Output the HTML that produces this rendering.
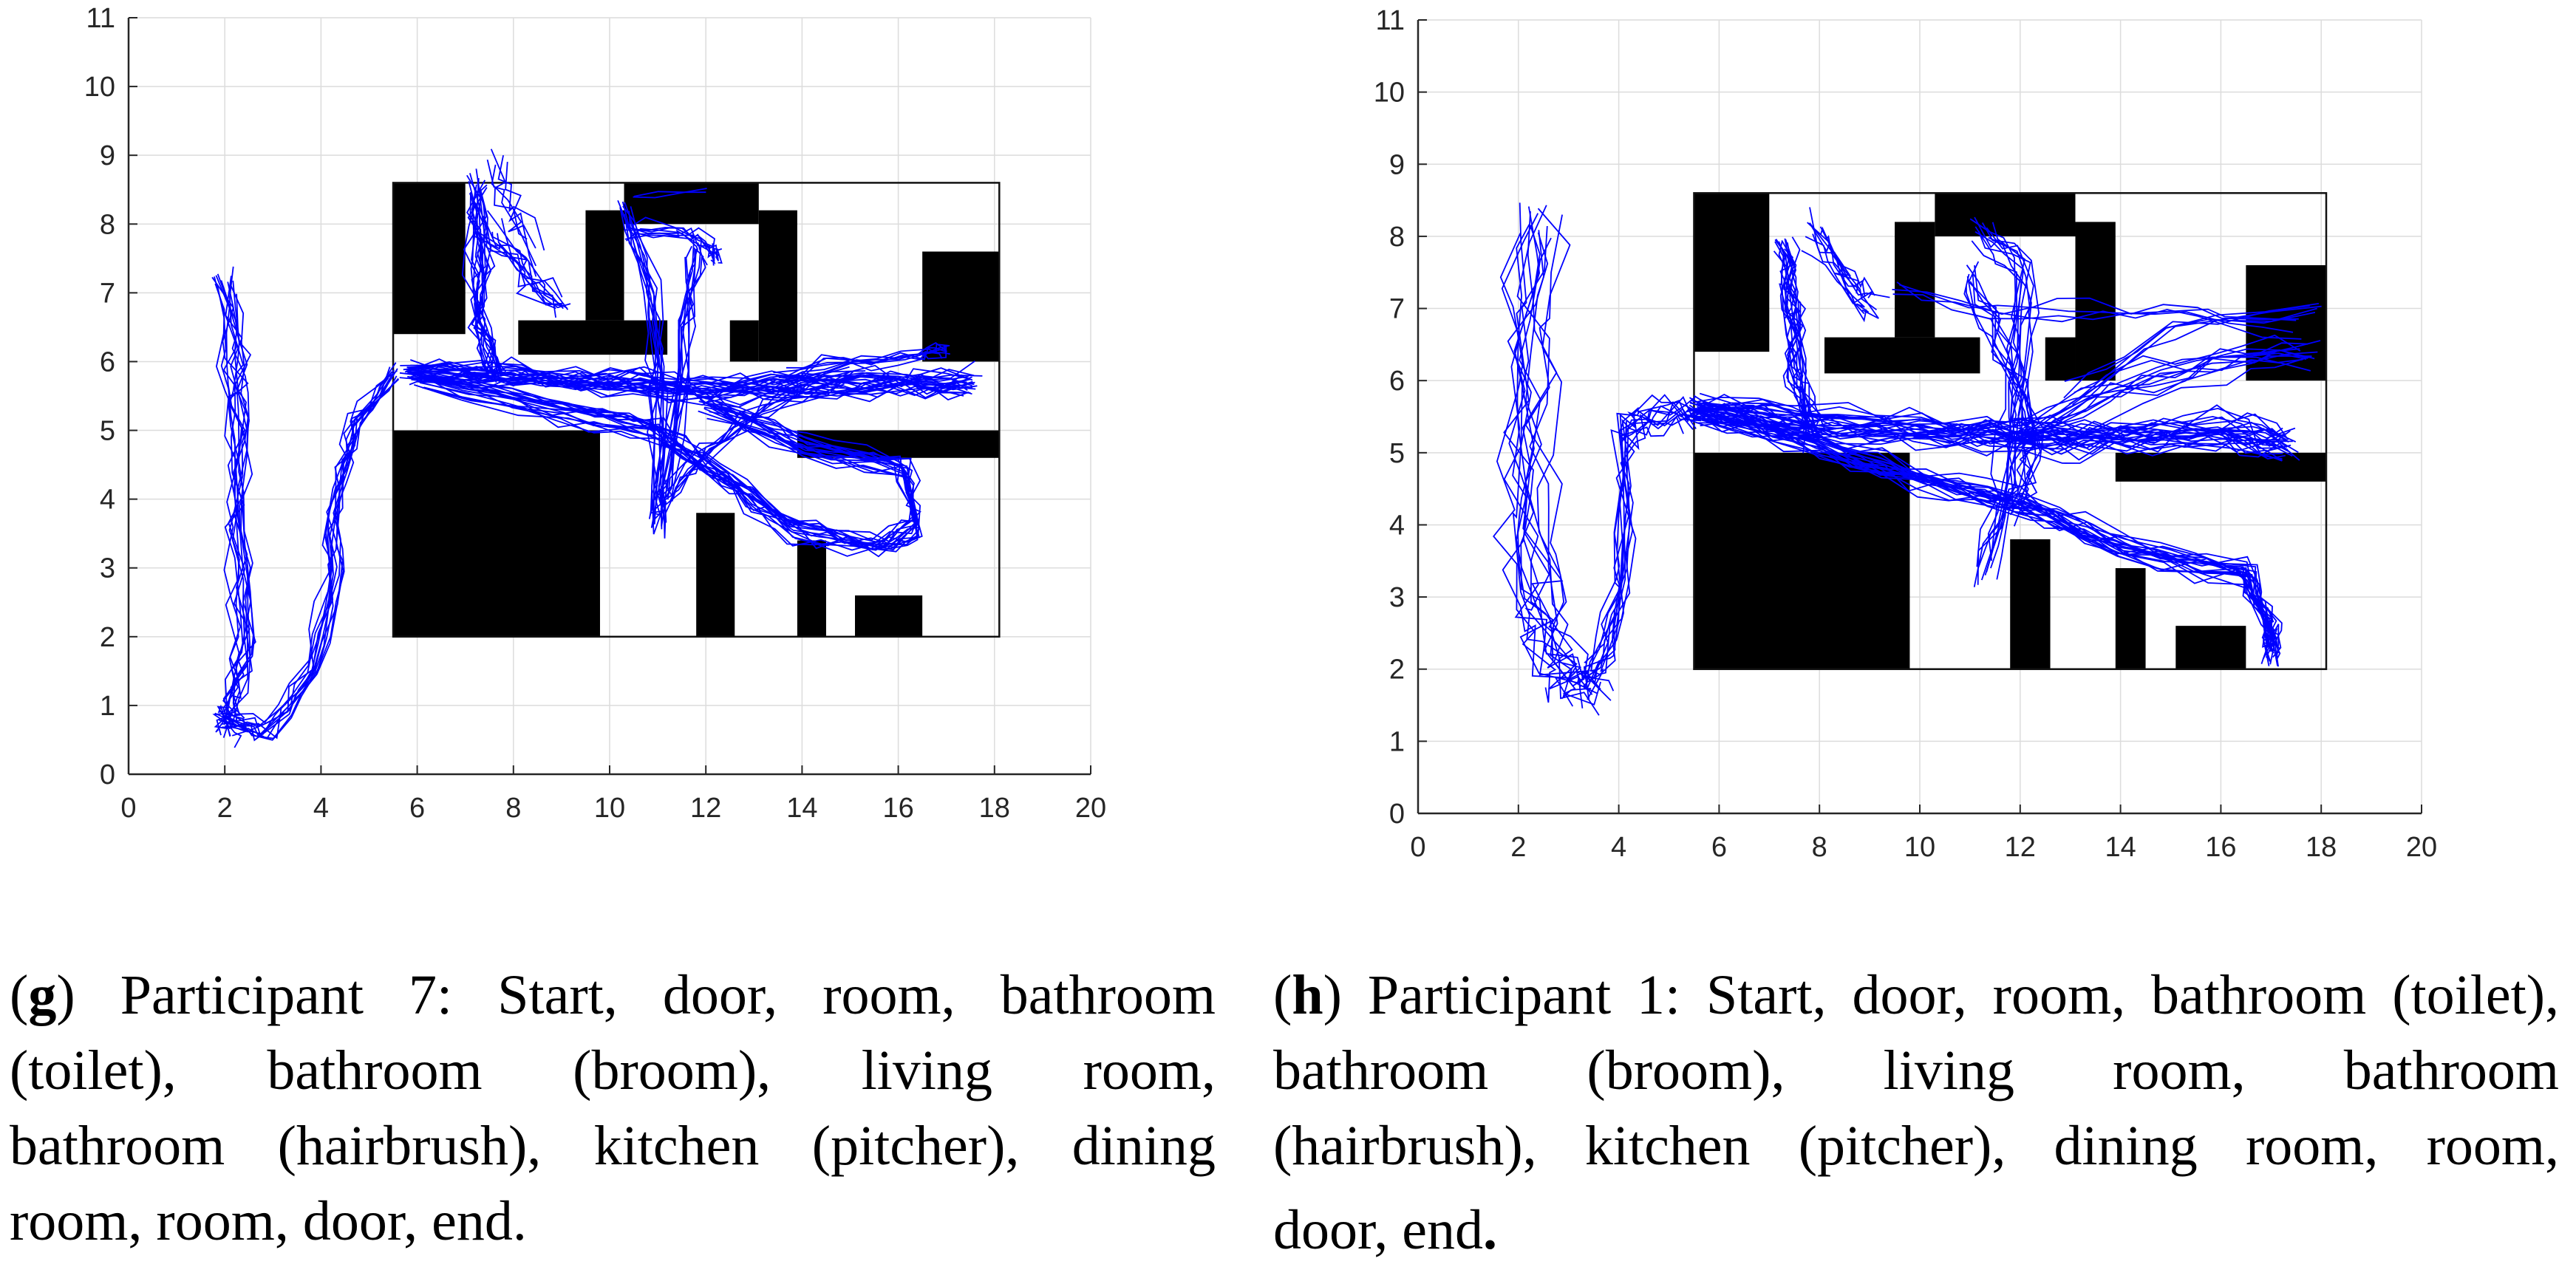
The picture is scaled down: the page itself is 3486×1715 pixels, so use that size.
<!DOCTYPE html>
<html><head><meta charset="utf-8">
<style>
html,body{margin:0;padding:0;background:#fff;}
body{width:3486px;height:1713px;position:relative;overflow:hidden;font-family:"Liberation Serif",serif;}
svg{position:absolute;left:0;top:0;}
.cap{position:absolute;font-size:76px;line-height:100px;height:100px;white-space:nowrap;color:#000;}
.j{text-align:justify;text-align-last:justify;white-space:normal;}
</style></head>
<body>
<svg id="s" width="3486" height="1713" xmlns="http://www.w3.org/2000/svg"></svg>

<div class="cap j" style="left:13px;top:1297px;width:1632px;">(<b>g</b>) Participant 7: Start, door, room, bathroom</div>
<div class="cap j" style="left:13px;top:1399px;width:1632px;">(toilet), bathroom (broom), living room,</div>
<div class="cap j" style="left:13px;top:1501px;width:1632px;">bathroom (hairbrush), kitchen (pitcher), dining</div>
<div class="cap" style="left:13px;top:1603px;">room, room, door, end.</div>

<div class="cap j" style="left:1723px;top:1297px;width:1740px;">(<b>h</b>) Participant 1: Start, door, room, bathroom (toilet),</div>
<div class="cap j" style="left:1723px;top:1399px;width:1740px;">bathroom (broom), living room, bathroom</div>
<div class="cap j" style="left:1723px;top:1501px;width:1740px;">(hairbrush), kitchen (pitcher), dining room, room,</div>
<div class="cap" style="left:1723px;top:1615px;">door, end<b>.</b></div>

<script>
var NS="http://www.w3.org/2000/svg";
var svg=document.getElementById("s");
function el(t,a,txt){var e=document.createElementNS(NS,t);for(var k in a)e.setAttribute(k,a[k]);if(txt!==undefined)e.textContent=txt;svg.appendChild(e);return e;}
var seed=12345;function rnd(){seed=(seed*16807)%2147483647;return seed/2147483647;}
function g(){return (rnd()+rnd()+rnd()-1.5)/1.5;}
var rects=[[5.5,6.4,7.0,8.6],[10.3,8.0,13.1,8.6],[9.5,6.6,10.3,8.2],[8.1,6.1,11.2,6.6],[13.1,6.0,13.9,8.2],[12.5,6.0,13.1,6.6],[16.5,6.0,18.1,7.6],[5.5,2,9.8,5],[13.9,4.6,18.1,5],[11.8,2,12.6,3.8],[13.9,2,14.5,3.4],[15.1,2,16.5,2.6]];
function plot(X0,X1,Y0,Y1,bundles){
 var X=function(x){return X0+(X1-X0)*x/20;},Y=function(y){return Y0-(Y0-Y1)*y/11;};
 for(var x=2;x<=20;x+=2)el("line",{x1:X(x),x2:X(x),y1:Y0,y2:Y1,stroke:"#dcdcdc","stroke-width":1.5});
 for(var y=1;y<=11;y++)el("line",{x1:X0,x2:X1,y1:Y(y),y2:Y(y),stroke:"#dcdcdc","stroke-width":1.5});
 rects.forEach(function(r){el("rect",{x:X(r[0]),y:Y(r[3]),width:X(r[2])-X(r[0]),height:Y(r[1])-Y(r[3]),fill:"#000"});});
 el("rect",{x:X(5.5),y:Y(8.6),width:X(18.1)-X(5.5),height:Y(2)-Y(8.6),fill:"none",stroke:"#111","stroke-width":2.5});
 bundles.forEach(function(b){
  for(var i=0;i<b.n;i++){
   var ox=g()*b.j[0],oy=g()*b.j[1],pts=[];
   for(var k=0;k<b.p.length;k++){
    var p=b.p[k];pts.push([p[0]+ox+g()*b.j[0]*1.1,p[1]+oy+g()*b.j[1]*1.1]);
    if(k<b.p.length-1){var q=b.p[k+1];var m=3;for(var s=1;s<m;s++){var t=s/m;pts.push([p[0]+(q[0]-p[0])*t+ox+g()*b.j[0]*1.2,p[1]+(q[1]-p[1])*t+oy+g()*b.j[1]*1.2]);}}
   }
   el("polyline",{points:pts.map(function(p){return X(p[0]).toFixed(1)+","+Y(p[1]).toFixed(1);}).join(" "),fill:"none",stroke:"#0000ff","stroke-width":1.8,"stroke-linejoin":"miter"});
  }
 });
 el("line",{x1:X0,x2:X1,y1:Y0,y2:Y0,stroke:"#262626","stroke-width":2.5});
 el("line",{x1:X0,x2:X0,y1:Y0,y2:Y1,stroke:"#262626","stroke-width":2.5});
 for(var x=0;x<=20;x+=2){el("line",{x1:X(x),x2:X(x),y1:Y0,y2:Y0-12,stroke:"#262626","stroke-width":2});
  el("text",{x:X(x),y:Y0+58,"text-anchor":"middle","font-family":"Liberation Sans, sans-serif","font-size":38,fill:"#262626"},String(x));}
 for(var y=0;y<=11;y++){el("line",{x1:X0,x2:X0+12,y1:Y(y),y2:Y(y),stroke:"#262626","stroke-width":2});
  el("text",{x:X0-18,y:Y(y)+13,"text-anchor":"end","font-family":"Liberation Sans, sans-serif","font-size":38,fill:"#262626"},String(y));}
}
// Participant 7
plot(174,1476,1048,24,[
 {n:13,j:[0.3,0.2],p:[[2.0,7.2],[2.2,6.0],[2.3,5.0],[2.3,3.5],[2.4,2.0],[2.1,1.0],[2.0,0.7]]},
 {n:12,j:[0.25,0.15],p:[[2.0,0.8],[2.8,0.6],[3.8,1.5],[4.2,3.0],[4.3,4.2],[4.7,5.1],[5.5,5.8]]},
 {n:26,j:[0.2,0.2],p:[[5.8,5.85],[8,5.8],[10,5.7],[12,5.6],[14,5.65],[16,5.7],[17.5,5.7]]},
 {n:8,j:[0.2,0.15],p:[[13.5,5.8],[15,6.0],[16.5,6.1],[17,6.2]]},
 {n:16,j:[0.25,0.2],p:[[7.2,8.6],[7.3,7.5],[7.3,6.5],[7.6,5.8]]},
 {n:10,j:[0.3,0.25],p:[[7.4,8.0],[8.2,7.3],[9.0,6.8]]},
 {n:5,j:[0.35,0.3],p:[[7.6,8.9],[8.0,8.2],[8.5,7.6]]},
 {n:10,j:[0.2,0.2],p:[[10.3,8.2],[10.9,7.0],[11.0,5.5],[11.0,3.6],[11.2,4.2],[11.6,6.5],[11.8,7.6]]},
 {n:8,j:[0.2,0.15],p:[[10.4,7.9],[11.5,7.9],[12.1,7.7],[12.2,7.5]]},
 {n:2,j:[0.1,0.05],p:[[10.5,8.4],[12.0,8.5]]},
 {n:18,j:[0.2,0.18],p:[[6.0,5.8],[9.0,5.3],[11.0,5.0],[12.5,4.3],[13.8,3.6],[15.5,3.3],[16.4,3.6],[16.1,4.5],[14.0,4.8],[12.0,5.4]]},
 {n:8,j:[0.2,0.2],p:[[11.2,4.0],[12.0,4.7],[13.2,5.3],[15.0,5.8]]}
]);
// Participant 1
plot(1919,3277,1101,27,[
 {n:14,j:[0.55,0.35],p:[[2.3,8.2],[2.2,6.5],[2.1,4.5],[2.3,3.0],[2.8,2.0],[3.3,1.7]]},
 {n:12,j:[0.25,0.3],p:[[3.3,1.8],[3.8,2.3],[4.1,3.5],[4.1,5.3],[4.6,5.5],[5.5,5.6]]},
 {n:28,j:[0.2,0.25],p:[[5.5,5.6],[7.5,5.4],[10,5.3],[12,5.2],[14,5.2],[16,5.3],[17.3,5.1]]},
 {n:12,j:[0.25,0.25],p:[[12,5.2],[14,5.8],[16,6.2],[17.8,6.3]]},
 {n:5,j:[0.3,0.25],p:[[13.0,5.8],[15.0,6.7],[17.9,7.0]]},
 {n:22,j:[0.18,0.2],p:[[5.5,5.6],[8,5.1],[10,4.6],[12,4.3],[14,3.7],[16.5,3.3],[17.0,2.6],[17.0,2.2]]},
 {n:16,j:[0.25,0.25],p:[[7.2,7.9],[7.4,7.0],[7.5,6.0],[7.8,5.3]]},
 {n:10,j:[0.35,0.3],p:[[7.8,8.0],[8.5,7.4],[9.0,7.0]]},
 {n:10,j:[0.25,0.25],p:[[11.2,8.1],[12.1,7.5],[12.0,6.0],[11.8,4.5],[11.3,3.3]]},
 {n:8,j:[0.3,0.25],p:[[11.0,7.5],[11.6,6.5],[12.3,5.2],[11.9,4.2]]},
 {n:4,j:[0.2,0.15],p:[[9.5,7.3],[11.5,6.9],[13.5,6.9],[15.5,6.9],[17.5,6.7]]}
]);
</script>
</body></html>
